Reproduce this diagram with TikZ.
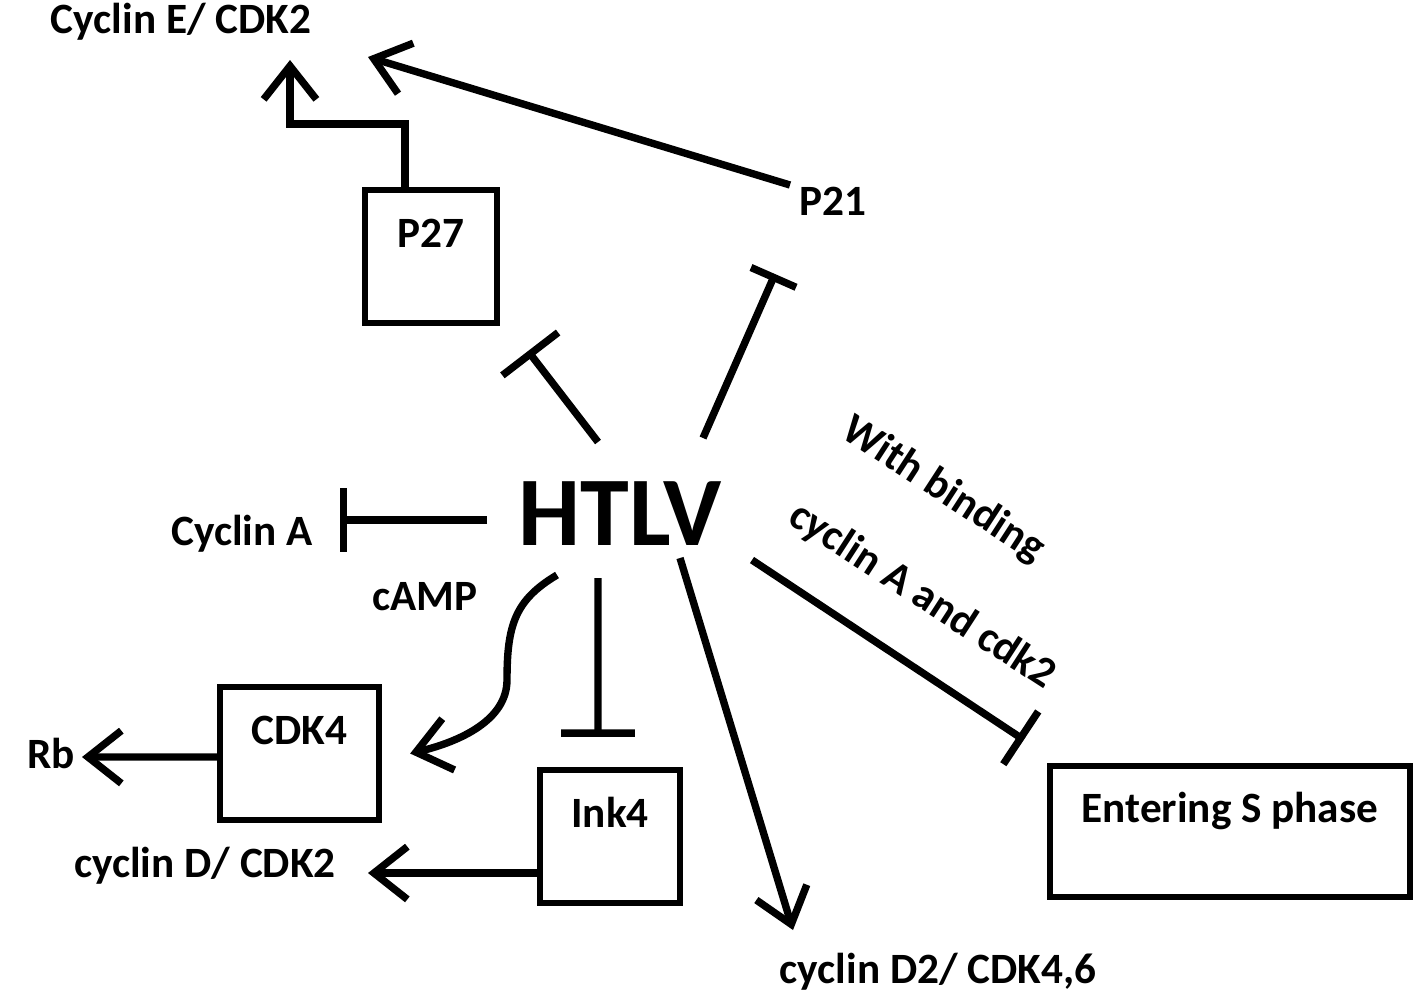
\documentclass[tikz,border=0pt]{standalone}
\usepackage{fontspec}
\setmainfont{Carlito}
\usetikzlibrary{arrows.meta}

\begin{document}
\begin{tikzpicture}
    % Define clean styles
    \tikzset{
        factor/.style={
            font=\bfseries\fontsize{12.3}{14}\selectfont,
            inner sep=0pt
        },
        entity/.style={
            draw,
            line width=1.8pt,
            minimum height=1.33cm,
            text height=0.3cm,
            text depth=0.48cm,
            inner sep=0pt,
            font=\bfseries\fontsize{12.3}{14}\selectfont
        },
        activate/.style={
            -{Straight Barb[length=9.5pt,width=15pt]},
            line width=2.1pt
        },
        inhibit/.style={
            -{Bar[width=#1]},
            line width=2.1pt
        }
    }
    \useasboundingbox (0,0) rectangle (14.18,-9.98);

    % Central virus
    \node[font=\bfseries\fontsize{28}{32}\selectfont, inner sep=0pt, anchor=base] (htlv) at (6.20,-5.45) {HTLV};

    % Top: cell cycle inhibitors
    \node[factor, anchor=base] (cycE) at (1.81,-0.33) {Cyclin E/ CDK2};
    \node[entity, minimum width=1.32cm] (p27) at (4.31,-2.565) {P27};
    \node[factor, anchor=base] (p21) at (8.33,-2.15) {P21};

    % Left side
    \node[factor, anchor=base] (cycA) at (2.42,-5.45) {Cyclin A};
    \node[factor, anchor=base] (camp) at (4.25,-6.10) {cAMP};
    \node[entity, minimum width=1.59cm] (cdk4) at (2.995,-7.535) {CDK4};
    \node[factor, anchor=base] (rb) at (0.51,-7.68) {Rb};
    \node[entity, minimum width=1.40cm] (ink4) at (6.10,-8.365) {Ink4};
    \node[factor, anchor=base] (cycD) at (2.05,-8.77) {cyclin D/ CDK2};

    % Right side
    \node[factor, anchor=base] (cycD2) at (9.38,-9.83) {cyclin D2/ CDK4,6};
    \node[entity, minimum width=3.60cm, minimum height=1.31cm] (sphase) at (12.30,-8.315) {Entering S phase};
    \node[factor, rotate=-33] (bind1) at (9.43,-4.90) {With binding};
    \node[factor, rotate=-33] (bind2) at (9.22,-5.96) {cyclin A and cdk2};

    % Arrows to Cyclin E/ CDK2
    \draw[activate] ([xshift=-0.26cm]p27.north) -- ++(0,0.63) -| ([xshift=1.09cm,yshift=-0.27cm]cycE.base);
    \draw[activate] ([xshift=-0.43cm,yshift=0.30cm]p21.base) -- ([xshift=1.87cm,yshift=-0.24cm]cycE.base);

    % Inhibition from HTLV
    \draw[inhibit=20pt] ([xshift=-0.22cm,yshift=1.03cm]htlv.base) -- ([xshift=0.97cm,yshift=-0.945cm]p27.center);
    \draw[inhibit=14pt] ([xshift=0.83cm,yshift=1.07cm]htlv.base) -- ([xshift=-0.58cm,yshift=-0.59cm]p21.base);
    \draw[inhibit=18pt] ([xshift=-1.33cm,yshift=0.25cm]htlv.base) -- ([xshift=0.98cm,yshift=0.25cm]cycA.base);
    \draw[inhibit=21pt] ([xshift=-0.22cm,yshift=-0.33cm]htlv.base) -- ([xshift=-0.12cm,yshift=0.30cm]ink4.north);
    \draw[inhibit=18pt] ([xshift=1.32cm,yshift=-0.15cm]htlv.base) -- ([xshift=-0.23cm,yshift=0.23cm]sphase.north west);

    % Activation from HTLV
    \draw[activate] ([xshift=-0.63cm,yshift=-0.30cm]htlv.base) .. controls +(-0.42,-0.25) and +(0,0.55) .. ++(-0.50,-1.05)
        .. controls +(0,-0.40) and +(0.50,0.12) .. ([xshift=0.28cm]cdk4.east);
    \draw[activate] ([xshift=0.60cm,yshift=-0.13cm]htlv.base) -- ([xshift=-1.45cm,yshift=0.53cm]cycD2.base);

    % Downstream outputs
    \draw[activate] ([yshift=-0.035cm]cdk4.west) -- ([xshift=0.31cm,yshift=0.11cm]rb.base);
    \draw[activate] ([yshift=-0.365cm]ink4.west) -- ([xshift=1.63cm,yshift=0.04cm]cycD.base);

\end{tikzpicture}
\end{document}
